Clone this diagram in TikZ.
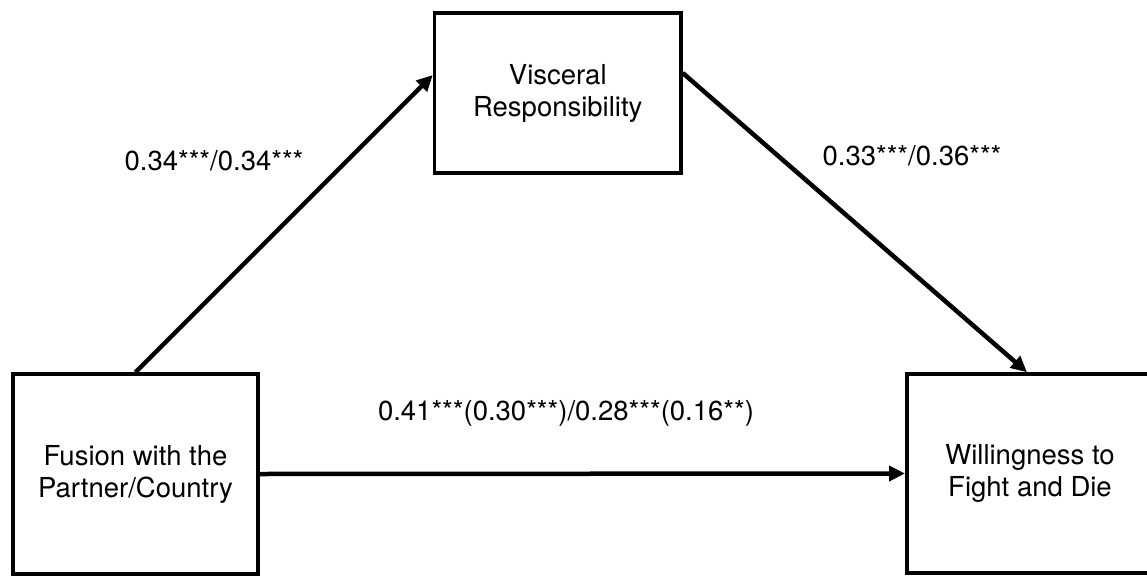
\documentclass[tikz,border=0pt]{standalone}
\usepackage{fontspec}
\setmainfont{TeX Gyre Heros}
\usetikzlibrary{arrows.meta}
\begin{document}
\begin{tikzpicture}[x=1pt,y=-1pt,
  box/.style={draw,line width=3.5pt,align=center,inner sep=0pt,font=\fontsize{27.5}{32}\selectfont},
  lbl/.style={font=\fontsize{27.5}{32}\selectfont,inner sep=0pt,anchor=base},
  conn/.style={line width=4.5pt,-{Triangle[length=16pt,width=15pt]}}]
\useasboundingbox (0,0) rectangle (1147,575);
\node[box,minimum width=245pt,minimum height=200pt] (fus) at (135.5,474) {Fusion with the\\Partner/Country};
\node[box,minimum width=246.5pt,minimum height=160pt] (vr) at (557.75,93) {Visceral\\Responsibility};
\node[box,minimum width=246.5pt,minimum height=199pt] (wil) at (1030,473.5) {Willingness to\\Fight and Die};
\coordinate (vrin) at ([yshift=18pt]vr.west);
\coordinate (vrout) at ([yshift=20pt]vr.east);
\coordinate (wilin) at ([xshift=-3pt]wil.north);
\draw[conn] (fus.north) -- (vrin);
\draw[conn] (vrout) -- (wilin);
\draw[conn] (fus.east) -- (wil.west);
\node[lbl] (l1) at (214,170) {0.34***/0.34***};
\node[lbl] (l2) at (912,165) {0.33***/0.36***};
\node[lbl] (l3) at (566,420) {0.41***(0.30***)/0.28***(0.16**)};
\end{tikzpicture}
\end{document}
